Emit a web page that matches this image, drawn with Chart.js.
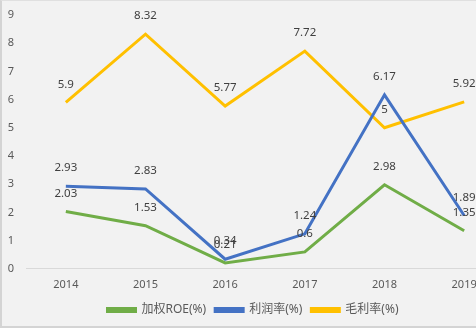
<!DOCTYPE html>
<html>
<head>
<meta charset="utf-8">
<script src="https://cdn.jsdelivr.net/npm/chart.js@4/dist/chart.umd.min.js"></script>
<style>
  html, body { margin: 0; padding: 0; background: #fff; overflow: hidden; }
  #wrap {
    position: relative; width: 520px; height: 328px;
    background: #f2f2f2;
    border-top: 1px solid #e0e0e0; border-left: 2px solid #d4d4d4; border-bottom: 2px solid #d4d4d4;
    box-sizing: border-box;
  }
</style>
</head>
<body>
<div id="wrap"><canvas id="chart" width="518" height="325"></canvas></div>
<script>
// --- data ---
const years = ["2014", "2015", "2016", "2017", "2018", "2019"];
const roe = [2.03, 1.53, 0.21, 0.6, 2.98, 1.35];
const profitRate = [2.93, 2.83, 0.34, 1.24, 6.17, 1.89];
const grossRate = [5.9, 8.32, 5.77, 7.72, 5, 5.92];

const FONT = '"Noto Sans", "Noto Sans CJK SC", sans-serif';

// value labels drawn above each point
const valueLabels = {
  id: "valueLabels",
  afterDatasetsDraw(chart) {
    const ctx = chart.ctx;
    ctx.save();
    ctx.font = "11.5px " + FONT;
    ctx.fillStyle = "#404040";
    ctx.textAlign = "center";
    ctx.textBaseline = "middle";
    chart.data.datasets.forEach((ds, i) => {
      chart.getDatasetMeta(i).data.forEach((pt, j) => {
        ctx.fillText(String(ds.data[j]), pt.x, pt.y - 18);
      });
    });
    ctx.restore();
  }
};

const line = (label, data, color) => ({
  label: label,
  data: data,
  borderColor: color,
  backgroundColor: color,
  borderWidth: 3,
  pointRadius: 0,
  tension: 0,
  fill: false
});

new Chart(document.getElementById("chart"), {
  type: "line",
  data: {
    labels: years,
    datasets: [
      line("加权ROE(%)", roe, "#70ad47"),
      line("利润率(%)", profitRate, "#4472c4"),
      line("毛利率(%)", grossRate, "#ffc000")
    ]
  },
  options: {
    responsive: false,
    animation: false,
    layout: { padding: { top: 14, right: 16, bottom: 0, left: 0 } },
    plugins: {
      tooltip: { enabled: false },
      legend: {
        position: "bottom",
        labels: {
          boxWidth: 28,
          boxHeight: 3,
          padding: 9,
          color: "#595959",
          font: { size: 12, family: FONT }
        }
      }
    },
    scales: {
      x: {
        offset: true,
        grid: { display: false },
        border: { display: true, color: "#d9d9d9", width: 1 },
        afterFit(scale) { scale.height += 3; },
        ticks: { color: "#595959", padding: 1, font: { size: 11, family: FONT } }
      },
      y: {
        min: 0,
        max: 9,
        grid: { display: false },
        border: { display: false },
        afterFit(scale) { scale.width = 24; },
        ticks: { stepSize: 1, color: "#595959", padding: 4, font: { size: 11, family: FONT } }
      }
    }
  },
  plugins: [valueLabels]
});
</script>
</body>
</html>
